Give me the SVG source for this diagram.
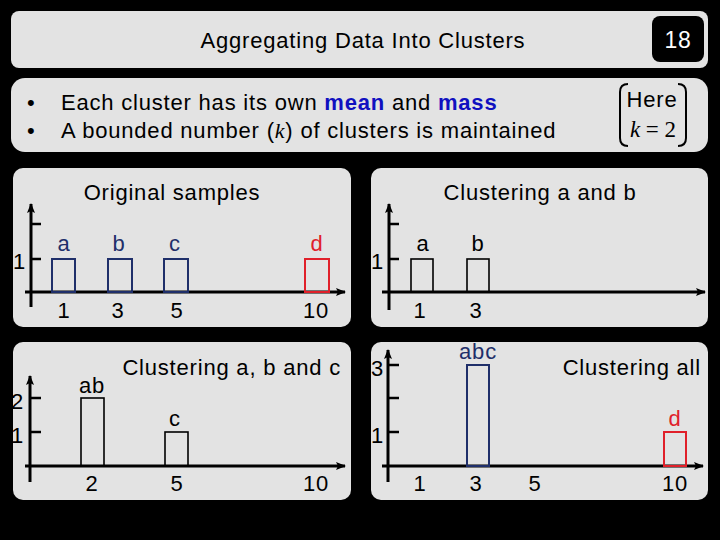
<svg xmlns="http://www.w3.org/2000/svg" width="720" height="540" viewBox="0 0 720 540">
<defs>
<marker id="ah" markerWidth="10" markerHeight="8" refX="9" refY="4" orient="auto" markerUnits="userSpaceOnUse"><path d="M0,0 L10,4 L0,8 L2,4 z" fill="#000"/></marker>
<style>
text{font-family:"Liberation Sans",Arial,sans-serif;font-size:22px;letter-spacing:0.8px;fill:#000}
.p{fill:#e3e3e3}
.ax{stroke:#000;stroke-width:3;fill:none}
.tk{stroke:#000;stroke-width:2.5}
.bn{fill:none;stroke:#1f2f6a;stroke-width:2}
.bk{fill:none;stroke:#000;stroke-width:1.6}
.br{fill:none;stroke:#e0202a;stroke-width:2}
.c{text-anchor:middle}
.n{fill:#1f2f6a}
.r{fill:#e0202a}
.e{text-anchor:end}
</style>
</defs>
<rect width="720" height="540" fill="#000"/>
<g id="header">
<rect class="p" x="11" y="11" width="697" height="57" rx="8"/>
<text class="c" x="363" y="48">Aggregating Data Into Clusters</text>
<rect x="652" y="16" width="52" height="46" rx="8" fill="#000"/>
<text class="c" x="678" y="48" style="fill:#fff;font-size:23px">18</text>
</g>
<g id="bullets">
<rect class="p" x="11" y="78" width="697" height="74" rx="14"/>
<text x="27" y="110">•</text><text x="27" y="138">•</text>
<text x="61" y="110">Each cluster has its own <tspan style="fill:#1010c0;font-weight:bold">mean</tspan> and <tspan style="fill:#1010c0;font-weight:bold">mass</tspan></text>
<text x="61" y="138">A bounded number (<tspan style="font-family:'Liberation Serif',serif;font-style:italic">k</tspan>) of clusters is maintained</text>
<path d="M628,84 Q620,84 620,92 L620,138 Q620,146 628,146" class="ax" style="stroke-width:2"/>
<path d="M678,84 Q686,84 686,92 L686,138 Q686,146 678,146" class="ax" style="stroke-width:2"/>
<text class="c" x="652" y="107">Here</text>
<text class="c" x="653" y="137" style="font-family:'Liberation Serif',serif;font-size:23px;letter-spacing:0"><tspan font-style="italic">k</tspan> = 2</text>
</g>
<g id="panel1">
<rect class="p" x="13" y="168" width="338" height="159" rx="10"/>
<text class="c" x="172" y="200">Original samples</text>
<line class="ax" x1="31" y1="307" x2="31" y2="204" marker-end="url(#ah)"/>
<line class="ax" x1="25" y1="292" x2="345" y2="292" marker-end="url(#ah)"/>
<line class="tk" x1="31" y1="224" x2="41" y2="224"/><line class="tk" x1="31" y1="259" x2="41" y2="259"/>
<text x="13" y="269">1</text>
<rect class="bn" x="52" y="259" width="23" height="33"/><rect class="bn" x="108" y="259" width="24" height="33"/><rect class="bn" x="164" y="259" width="24" height="33"/><rect class="br" x="305" y="259" width="24" height="33"/>
<text class="c n" x="64" y="251">a</text><text class="c n" x="119" y="251">b</text><text class="c n" x="175" y="251">c</text><text class="c r" x="317" y="251">d</text>
<text class="c" x="64" y="318">1</text><text class="c" x="118" y="318">3</text><text class="c" x="177" y="318">5</text><text class="c" x="316" y="318">10</text>
</g>
<g id="panel2">
<rect class="p" x="371" y="168" width="337" height="159" rx="10"/>
<text class="c" x="540" y="200">Clustering a and b</text>
<line class="ax" x1="389" y1="310" x2="389" y2="204" marker-end="url(#ah)"/>
<line class="ax" x1="382" y1="292" x2="705" y2="292" marker-end="url(#ah)"/>
<line class="tk" x1="389" y1="224" x2="399" y2="224"/><line class="tk" x1="389" y1="259" x2="399" y2="259"/>
<text x="371" y="269">1</text>
<rect class="bk" x="411" y="259" width="22" height="33"/><rect class="bk" x="467" y="259" width="22" height="33"/>
<text class="c" x="423" y="251">a</text><text class="c" x="478" y="251">b</text>
<text class="c" x="420" y="318">1</text><text class="c" x="476" y="318">3</text>
</g>
<g id="panel3">
<rect class="p" x="13" y="342" width="338" height="158" rx="10"/>
<text class="e" x="341" y="375">Clustering a, b and c</text>
<line class="ax" x1="30" y1="482" x2="30" y2="376" marker-end="url(#ah)"/>
<line class="ax" x1="25" y1="466" x2="345" y2="466" marker-end="url(#ah)"/>
<line class="tk" x1="30" y1="398" x2="41" y2="398"/><line class="tk" x1="30" y1="432" x2="41" y2="432"/>
<text x="11" y="409">2</text><text x="11" y="443">1</text>
<rect class="bk" x="81" y="398" width="23" height="68"/><rect class="bk" x="165" y="432" width="23" height="34"/>
<text class="c" x="92" y="393">ab</text><text class="c" x="175" y="426">c</text>
<text class="c" x="92" y="491">2</text><text class="c" x="177" y="491">5</text><text class="c" x="316" y="491">10</text>
</g>
<g id="panel4">
<rect class="p" x="371" y="342" width="337" height="158" rx="10"/>
<text class="e" x="701" y="375">Clustering all</text>
<line class="ax" x1="388" y1="482" x2="388" y2="350" marker-end="url(#ah)"/>
<line class="ax" x1="382" y1="466" x2="703" y2="466" marker-end="url(#ah)"/>
<line class="tk" x1="388" y1="365" x2="399" y2="365"/><line class="tk" x1="388" y1="398" x2="399" y2="398"/><line class="tk" x1="388" y1="432" x2="399" y2="432"/>
<text x="371" y="376">3</text><text x="371" y="443">1</text>
<rect class="bn" x="467" y="365" width="22" height="101"/><rect class="br" x="664" y="432" width="22" height="34"/>
<text class="c n" x="478" y="359">abc</text><text class="c r" x="675" y="426">d</text>
<text class="c" x="420" y="491">1</text><text class="c" x="476" y="491">3</text><text class="c" x="535" y="491">5</text><text class="c" x="675" y="491">10</text>
</g>
</svg>
